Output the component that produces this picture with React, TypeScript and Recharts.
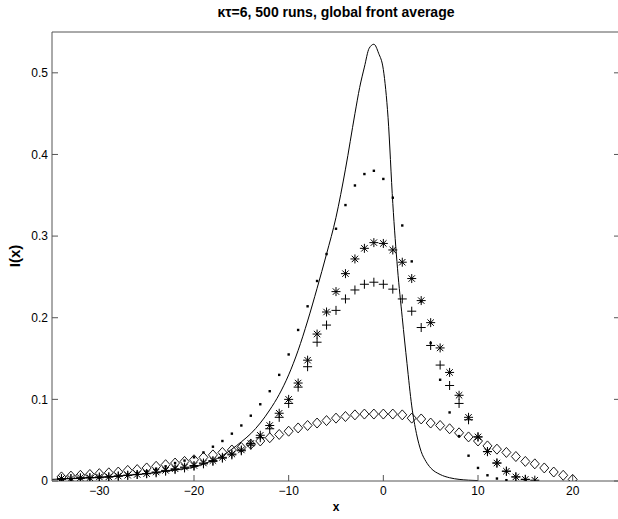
import { ComposedChart, Line, Scatter, XAxis, YAxis } from "recharts";

// marker positions (integer x) and measured front averages
const diamondX = Array.from({ length: 55 }, (_, i) => i - 34);
const diamondY = [
  0.005, 0.006, 0.007, 0.008, 0.009, 0.01, 0.011, 0.013, 0.014, 0.016, 0.018,
  0.02, 0.022, 0.024, 0.026, 0.029, 0.032, 0.035, 0.038, 0.041, 0.045, 0.049,
  0.053, 0.057, 0.061, 0.065, 0.068, 0.071, 0.074, 0.077, 0.079, 0.081, 0.082,
  0.082, 0.082, 0.082, 0.081, 0.077, 0.076, 0.071, 0.068, 0.064, 0.059, 0.054,
  0.049, 0.043, 0.039, 0.035, 0.03, 0.024, 0.021, 0.016, 0.011, 0.007, 0.002,
];

const starX = Array.from({ length: 51 }, (_, i) => i - 34);
const starY = [
  0.003, 0.003, 0.004, 0.004, 0.005, 0.005, 0.006, 0.007, 0.008, 0.009, 0.011,
  0.013, 0.015, 0.017, 0.019, 0.022, 0.025, 0.029, 0.033, 0.038, 0.046, 0.056,
  0.068, 0.083, 0.1, 0.12, 0.148, 0.18, 0.207, 0.232, 0.254, 0.272, 0.285,
  0.292, 0.291, 0.283, 0.268, 0.248, 0.221, 0.194, 0.163, 0.133, 0.105, 0.078,
  0.054, 0.036, 0.022, 0.012, 0.005, 0.002, 0.001,
];

const plusX = Array.from({ length: 50 }, (_, i) => i - 34);
const plusY = [
  0.002, 0.003, 0.003, 0.004, 0.004, 0.005, 0.006, 0.007, 0.008, 0.009, 0.01,
  0.012, 0.014, 0.016, 0.018, 0.021, 0.024, 0.028, 0.032, 0.037, 0.044, 0.053,
  0.064, 0.078, 0.095, 0.115, 0.14, 0.17, 0.191, 0.209, 0.223, 0.234, 0.241,
  0.2435, 0.241, 0.235, 0.223, 0.208, 0.188, 0.166, 0.142, 0.117, 0.095, 0.075,
  0.054, 0.036, 0.022, 0.012, 0.005, 0.002,
];

const dotX = Array.from({ length: 48 }, (_, i) => i - 34);
const dotY = [
  0.002, 0.002, 0.003, 0.003, 0.004, 0.005, 0.006, 0.008, 0.01, 0.012, 0.015,
  0.018, 0.022, 0.025, 0.029, 0.035, 0.042, 0.049, 0.058, 0.068, 0.08, 0.094,
  0.11, 0.13, 0.155, 0.185, 0.214, 0.245, 0.278, 0.309, 0.338, 0.362, 0.376,
  0.38, 0.37, 0.347, 0.313, 0.269, 0.22, 0.169, 0.124, 0.084, 0.055, 0.031,
  0.016, 0.007, 0.003, 0.001,
];

// solid curve
const curveX = [
  -35, -33, -31, -29, -27, -25, -23, -21, -20, -19, -18, -17, -16, -15, -14,
  -13, -12, -11, -10, -9, -8, -7, -6, -5, -4, -3, -2.5, -2, -1.5, -1, -0.5, 0,
  0.5, 1, 1.5, 2, 2.5, 3, 3.5, 4, 4.5, 5, 6, 7, 8, 9, 10,
];
const curveY = [
  0.002, 0.003, 0.004, 0.005, 0.007, 0.009, 0.012, 0.015, 0.017, 0.021, 0.025,
  0.031, 0.039, 0.048, 0.058, 0.071, 0.087, 0.106, 0.13, 0.16, 0.196, 0.236,
  0.278, 0.323, 0.382, 0.45, 0.482, 0.507, 0.53, 0.535, 0.524, 0.504, 0.445,
  0.34, 0.26, 0.2, 0.144, 0.092, 0.058, 0.036, 0.024, 0.016, 0.008, 0.004,
  0.002, 0.001, 0.0005,
];

const xTicks = [-30, -20, -10, 0, 10, 20];
const yTicks = [0, 0.1, 0.2, 0.3, 0.4, 0.5];

const pts = (xs: number[], ys: number[]) => xs.map((x, i) => ({ x, y: ys[i] }));

const font = "'Liberation Sans', Arial, Helvetica, sans-serif";
const minus = (v: number) => String(v).replace("-", "\u2212");

const DotShape = (p: any) => (
  <rect x={p.cx - 1.2} y={p.cy - 1.2} width={2.4} height={2.4} fill="#000" />
);
const StarShape = (p: any) => {
  const r = 4.5;
  const d = 3.2;
  const { cx, cy } = p;
  return (
    <path
      d={`M${cx - r},${cy}H${cx + r}M${cx},${cy - r}V${cy + r}M${cx - d},${cy - d}L${cx + d},${cy + d}M${cx - d},${cy + d}L${cx + d},${cy - d}`}
      stroke="#000"
      strokeWidth={1}
      fill="none"
    />
  );
};
const PlusShape = (p: any) => {
  const r = 4.5;
  const { cx, cy } = p;
  return (
    <path
      d={`M${cx - r},${cy}H${cx + r}M${cx},${cy - r}V${cy + r}`}
      stroke="#000"
      strokeWidth={1}
      fill="none"
    />
  );
};
const DiamondShape = (p: any) => {
  const { cx, cy } = p;
  return (
    <path
      d={`M${cx},${cy - 5}L${cx + 4.5},${cy}L${cx},${cy + 5}L${cx - 4.5},${cy}Z`}
      stroke="#000"
      strokeWidth={0.9}
      fill="none"
    />
  );
};

const tickStyle = { fontSize: 12, fill: "#000", fontFamily: font };

export default function App() {
  return (
    <div
      style={{
        position: "fixed",
        left: 0,
        top: 0,
        width: 618,
        height: 519,
        overflow: "hidden",
        background: "#fff",
        fontFamily: font,
      }}
    >
      <ComposedChart
        width={622}
        height={519}
        margin={{ top: 30, right: 0, bottom: 8, left: 12 }}
      >
        <XAxis
          dataKey="x"
          type="number"
          domain={[-35, 25]}
          ticks={xTicks}
          allowDataOverflow
          height={30}
          tickSize={-6}
          tickMargin={11}
          tickFormatter={minus}
          tick={tickStyle}
          stroke="#555"
        />
        <XAxis
          xAxisId="top"
          orientation="top"
          type="number"
          domain={[-35, 25]}
          ticks={xTicks}
          allowDataOverflow
          height={2}
          tickSize={-6}
          tickFormatter={() => ""}
          stroke="#555"
        />
        <YAxis
          dataKey="y"
          type="number"
          domain={[0, 0.55]}
          ticks={yTicks}
          allowDataOverflow
          width={40}
          tickSize={-6}
          tickMargin={10}
          tick={tickStyle}
          stroke="#555"
        />
        <YAxis
          yAxisId="right"
          orientation="right"
          type="number"
          domain={[0, 0.55]}
          ticks={yTicks}
          allowDataOverflow
          width={2}
          tickSize={-6}
          tickFormatter={() => ""}
          stroke="#555"
        />
        <Line
          data={pts(curveX, curveY)}
          dataKey="y"
          type="monotone"
          stroke="#000"
          strokeWidth={1}
          dot={false}
          activeDot={false}
          isAnimationActive={false}
        />
        <Scatter data={pts(diamondX, diamondY)} shape={DiamondShape} isAnimationActive={false} />
        <Scatter data={pts(plusX, plusY)} shape={PlusShape} isAnimationActive={false} />
        <Scatter data={pts(starX, starY)} shape={StarShape} isAnimationActive={false} />
        <Scatter data={pts(dotX, dotY)} shape={DotShape} isAnimationActive={false} />
      </ComposedChart>
      <div
        style={{
          position: "absolute",
          left: 52,
          width: 568,
          top: 4,
          textAlign: "center",
          fontSize: 14,
          fontWeight: "bold",
          color: "#000",
        }}
      >
        κτ=6, 500 runs, global front average
      </div>
      <div
        style={{
          position: "absolute",
          left: 336,
          top: 500,
          transform: "translateX(-50%)",
          fontSize: 12,
          fontWeight: "bold",
        }}
      >
        x
      </div>
      <div
        style={{
          position: "absolute",
          left: 14,
          top: 256,
          transform: "translate(-50%, -50%) rotate(-90deg)",
          fontSize: 15,
          fontWeight: "bold",
          whiteSpace: "nowrap",
        }}
      >
        I(x)
      </div>
    </div>
  );
}
